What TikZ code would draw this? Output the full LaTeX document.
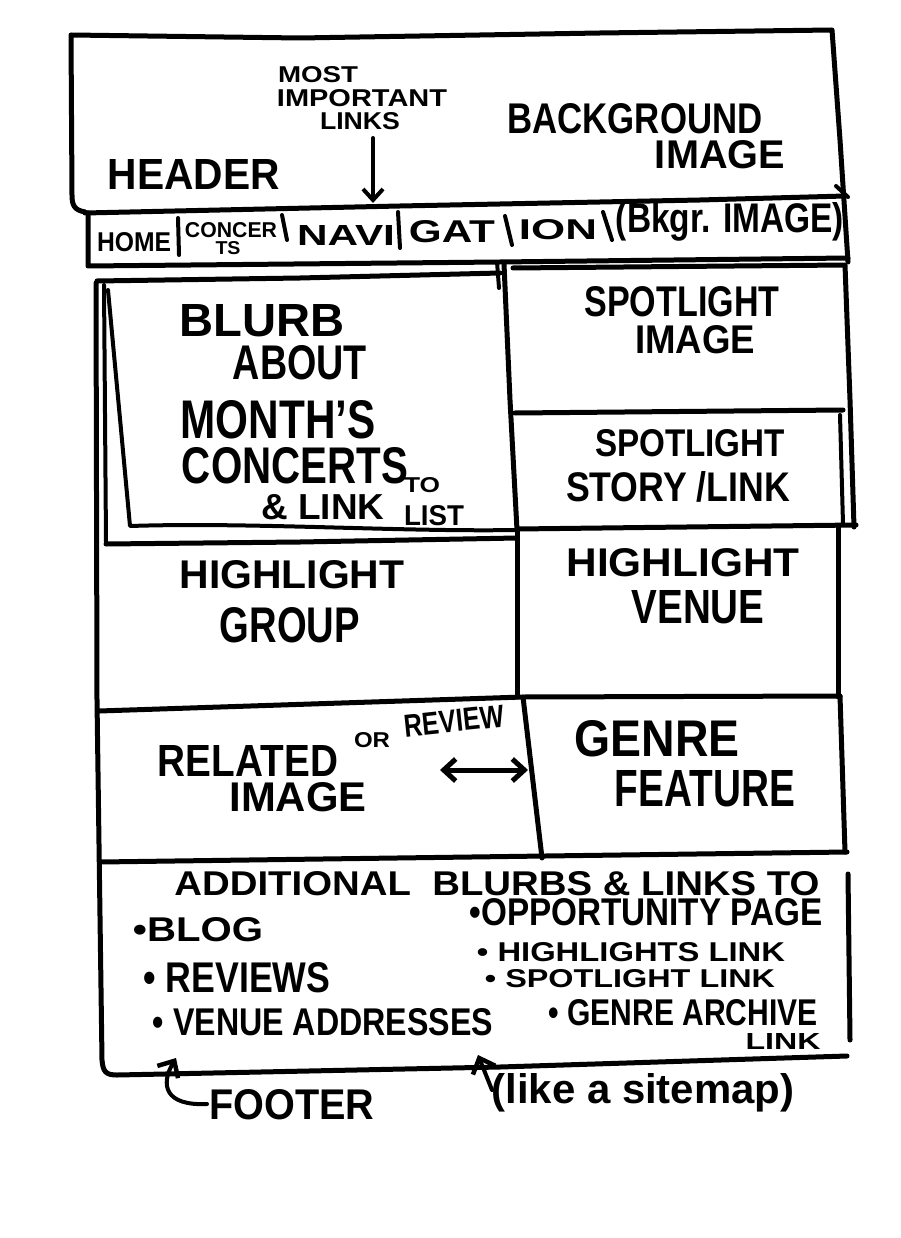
\documentclass[tikz,border=0pt]{standalone}
\usepackage{fontspec}
\setmainfont{Liberation Sans}
\usetikzlibrary{arrows.meta}
\newcommand{\hand}[3]{\resizebox{#1pt}{#2pt}{\bfseries #3}}
\begin{document}
\begin{tikzpicture}[x=1pt,y=-1pt,
  pen/.style={line width=5pt, line cap=round, line join=round},
  thinpen/.style={line width=4pt, line cap=round, line join=round},
  lbl/.style={inner sep=0pt, anchor=center},
  barb/.style={-{Straight Barb[length=11pt,width=20pt,line width=4pt]}},
  bigbarb/.style={-{Straight Barb[length=13pt,width=24pt,line width=4.5pt]}},
  dbarb/.style={{Straight Barb[length=12pt,width=22pt,line width=5pt]}-{Straight Barb[length=12pt,width=22pt,line width=5pt]}}]
\useasboundingbox (0,0) rectangle (900,1238);
\fill[white] (0,0) rectangle (900,1238);

% ---------- header ----------
\draw[pen] (85,212) .. controls (74,210) and (72,205) .. (72,195) -- (71,35) -- (300,38) -- (600,33) -- (832,30) -- (840,140) -- (848,262);
\draw[pen] (85,213) -- (400,206) -- (700,200) -- (845,196);
\draw[thinpen] (836,186) -- (848,197);
\draw[pen] (88,213) -- (88,266) -- (500,262) -- (848,258);

% nav dividers
\draw[thinpen] (178,218) -- (179,255);
\draw[thinpen] (282,215) -- (287,240);
\draw[thinpen] (398,212) -- (400,248);
\draw[thinpen] (505,216) -- (512,245);
\draw[thinpen] (603,212) -- (612,240);

\node[lbl] (most) at (318,75) {\hand{80}{16}{MOST}};
\node[lbl] (important) at (362,98) {\hand{170}{17}{IMPORTANT}};
\node[lbl] (links) at (360,121) {\hand{80}{17}{LINKS}};
\node[lbl] (bg) at (635,119) {\hand{255}{30}{BACKGROUND}};
\node[lbl] (bgimg) at (720,155) {\hand{130}{28}{IMAGE}};
\node[lbl] (header) at (194,174) {\hand{172}{30}{HEADER}};

\node[lbl] (home) at (134,242) {\hand{74}{19}{HOME}};
\node[lbl] (concer) at (231,230) {\hand{92}{15}{CONCER}};
\node[lbl] (ts) at (228,248) {\hand{25}{13}{TS}};
\node[lbl] (navi) at (346,235) {\hand{98}{20}{NAVI}};
\node[lbl] (gat) at (452,232) {\hand{86}{22}{GAT}};
\node[lbl] (ion) at (558,230) {\hand{78}{20}{ION}};
\node[lbl] (bkgr) at (730,222) {\hand{228}{30}{(Bkgr. IMAGE)}};

\coordinate (mil) at (373,138);
\coordinate (navtop) at (373,203);
\draw[thinpen, barb] (mil) -- (navtop);

% ---------- main grid ----------
\draw[pen] (97,281) -- (300,278) -- (500,273);
\draw[thinpen] (497,262) -- (499,288);
\draw[pen] (504,264) -- (510,400) -- (517,530);
\draw[pen] (513,268) -- (845,265) -- (850,400) -- (854,527);
\draw[thinpen] (840,415) -- (843,524);
\draw[pen] (515,413) -- (843,410);
\draw[pen] (517,529) -- (856,525);

% outer left edge and footer bottom
\draw[pen] (96,283) -- (97,700) -- (102,1060) .. controls (103,1072) and (106,1075) .. (117,1075) -- (500,1067) -- (847,1056);
% blurb page effect
\draw[thinpen] (104,285) -- (106,542);
\draw[thinpen] (108,290) -- (130,526) .. controls (250,522) and (400,532) .. (517,530);
\draw[pen] (106,544) -- (300,542) -- (517,538);

% rows
\draw[pen] (517,530) -- (517,697);
\draw[pen] (838,527) -- (838,697);
\draw[pen] (99,711) -- (523,697) -- (840,696);
\draw[pen] (523,697) -- (542,858);
\draw[pen] (840,696) -- (845,852);
\draw[pen] (100,862) -- (545,856) -- (847,852);
\draw[pen] (848,874) -- (850,1040);

% ---------- texts ----------
\node[lbl] (blurb) at (262,321) {\hand{165}{32}{BLURB}};
\node[lbl] (about) at (300,363) {\hand{134}{34}{ABOUT}};
\node[lbl] (months) at (278,420) {\hand{195}{38}{MONTH'S}};
\node[lbl] (concerts) at (295,466) {\hand{226}{36}{CONCERTS}};
\node[lbl] (andlink) at (323,507) {\hand{123}{25}{\& LINK}};
\node[lbl] (to) at (422,485) {\hand{36}{15}{TO}};
\node[lbl] (list) at (434,516) {\hand{60}{20}{LIST}};

\node[lbl] (spot1) at (682,302) {\hand{195}{30}{SPOTLIGHT}};
\node[lbl] (spotimg) at (695,340) {\hand{120}{28}{IMAGE}};
\node[lbl] (spot2) at (690,443) {\hand{190}{27}{SPOTLIGHT}};
\node[lbl] (story) at (678,487) {\hand{224}{30}{STORY /LINK}};

\node[lbl] (hl1) at (292,575) {\hand{225}{28}{HIGHLIGHT}};
\node[lbl] (group) at (290,625) {\hand{140}{35}{GROUP}};
\node[lbl] (hl2) at (683,563) {\hand{233}{28}{HIGHLIGHT}};
\node[lbl] (venue) at (698,607) {\hand{133}{33}{VENUE}};

\node[lbl] (related) at (248,761) {\hand{180}{31}{RELATED}};
\node[lbl] (or) at (372,740) {\hand{36}{15}{OR}};
\node[lbl, rotate=6] (review) at (454,721) {\hand{100}{22}{REVIEW}};
\node[lbl] (relimg) at (298,797) {\hand{137}{29}{IMAGE}};
\node[lbl] (genre) at (657,739) {\hand{165}{36}{GENRE}};
\node[lbl] (feature) at (705,789) {\hand{180}{36}{FEATURE}};

\coordinate (da) at (440,770);
\coordinate (db) at (528,770);
\draw[pen, dbarb] (da) -- (db);

\node[lbl] (addl) at (497,884) {\hand{645}{24}{ADDITIONAL \ BLURBS \& LINKS TO}};
\node[lbl] (blog) at (198,930) {\hand{130}{24}{•BLOG}};
\node[lbl] (reviews) at (237,978) {\hand{187}{30}{• REVIEWS}};
\node[lbl] (venues) at (323,1022) {\hand{340}{27}{• VENUE ADDRESSES}};
\node[lbl] (opp) at (646,912) {\hand{353}{27}{•OPPORTUNITY PAGE}};
\node[lbl] (hllink) at (631,952) {\hand{308}{19}{• HIGHLIGHTS LINK}};
\node[lbl] (splink) at (630,979) {\hand{290}{18}{• SPOTLIGHT LINK}};
\node[lbl] (genarch) at (683,1013) {\hand{269}{26}{• GENRE ARCHIVE}};
\node[lbl] (link) at (783,1041) {\hand{75}{16}{LINK}};

\node[lbl] (footer) at (292,1105) {\hand{165}{30}{FOOTER}};
\node[lbl] (sitemap) at (643,1093) {\hand{303}{30}{(like a sitemap)}};

\coordinate (ft) at (207,1104);
\coordinate (fh) at (176,1058);
\draw[thinpen, bigbarb] (ft) .. controls (165,1106) and (160,1085) .. (fh);
\coordinate (st) at (492,1090);
\coordinate (sh) at (478,1055);
\draw[thinpen, bigbarb] (st) -- (sh);
\end{tikzpicture}
\end{document}
